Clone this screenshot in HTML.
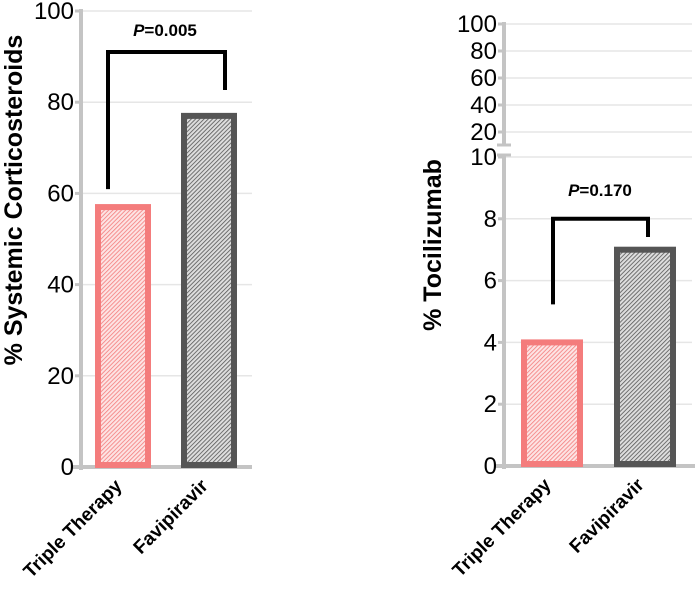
<!DOCTYPE html>
<html><head><meta charset="utf-8"><style>
body{margin:0;background:#fff}
svg{font-family:"Liberation Sans",Arial,sans-serif;display:block}
</style></head><body>
<svg width="696" height="597" viewBox="0 0 696 597">
<defs>
<pattern id="hp" width="3" height="3" patternUnits="userSpaceOnUse" patternTransform="rotate(45)"><rect width="3" height="3" fill="#fde3e3"/><line x1="0" y1="0" x2="0" y2="3" stroke="#f47c7c" stroke-width="1.6"/></pattern>
<pattern id="hg" width="3" height="3" patternUnits="userSpaceOnUse" patternTransform="rotate(45)"><rect width="3" height="3" fill="#ddd"/><line x1="0" y1="0" x2="0" y2="3" stroke="#555" stroke-width="1.6"/></pattern>
</defs>
<g id="left"></g>
<g id="right"></g>
</svg>
<script>
const categories=["Triple Therapy","Favipiravir"];
const steroidValues=[57,77];
const tociValues=[4,7];
const leftTicks=[0,20,40,60,80,100];
const rightLowTicks=[0,2,4,6,8,10];
const rightHighTicks=[20,40,60,80,100];
const pLeft="0.005", pRight="0.170";
const NS="http://www.w3.org/2000/svg";
function mk(p,t,a,txt){const e=document.createElementNS(NS,t);for(const k in a)e.setAttribute(k,a[k]);if(txt!==undefined)e.textContent=txt;p.appendChild(e);return e;}
const fills=["url(#hp)","url(#hg)"],strokes=["#f47c7c","#555"];
function pText(g,x,y,val){const t=mk(g,"text",{x:x,y:y,"text-anchor":"middle","font-size":"17","font-weight":"bold"});

mk(t,"tspan",{"font-style":"italic"},"P");mk(t,"tspan",{},"="+val);}
function tickLabel(g,x,y,v){const t=mk(g,"text",{x:x,y:y+8,"text-anchor":"end","font-size":"24"},v);}
function xLabel(g,cx,base,c){const t=mk(g,"text",{transform:`translate(${cx},${base+20}) rotate(-45)`,"text-anchor":"end","font-size":"19","font-weight":"bold"},c);
}
// LEFT
(function(){
const g=document.getElementById('left');
const ax=81,base=467,top=11,x1=252;
const y=v=>base-(v/100)*(base-top);
leftTicks.forEach(v=>{if(v>0){const l=mk(g,"line",{x1:ax,x2:x1,y1:y(v),y2:y(v),stroke:"#e6e6e6","stroke-width":1.5});}
mk(g,"line",{x1:ax-6,x2:ax,y1:y(v),y2:y(v),stroke:"#c4c4c4","stroke-width":3});
tickLabel(g,ax-7,y(v),v);});
mk(g,"line",{x1:ax,x2:ax,y1:y(100)-2,y2:base+3,stroke:"#c4c4c4","stroke-width":4});
mk(g,"line",{x1:ax-8,x2:x1,y1:base,y2:base,stroke:"#c4c4c4","stroke-width":4});
const bx=[98,184],bw=50;
categories.forEach((c,i)=>{const r=mk(g,"rect",{x:bx[i],y:y(steroidValues[i]),width:bw,height:base-y(steroidValues[i])-2,fill:fills[i],stroke:strokes[i],"stroke-width":6});

xLabel(g,bx[i]+bw/2,base,c);});
const br=mk(g,"path",{d:`M108 ${y(steroidValues[0])-18} V52 H225 V90`,fill:"none",stroke:"#000","stroke-width":4});

pText(g,165,36,pLeft);
const yt=mk(g,"text",{transform:"translate(22,200) rotate(-90)","text-anchor":"middle","font-size":"25","font-weight":"bold"},"% Systemic Corticosteroids");

})();
// RIGHT
(function(){
const g=document.getElementById('right');
const ax=504,base=466,top=157,x1=692;
const y=v=>base-(v/10)*(base-top);
const yh=v=>24+(100-v)/80*(132-24);
rightHighTicks.forEach(v=>{const l=mk(g,"line",{x1:ax,x2:x1,y1:yh(v),y2:yh(v),stroke:"#e6e6e6","stroke-width":1.5});
mk(g,"line",{x1:ax-6,x2:ax,y1:yh(v),y2:yh(v),stroke:"#c4c4c4","stroke-width":3});
tickLabel(g,ax-7,yh(v),v);});
rightLowTicks.forEach(v=>{if(v>0){const l=mk(g,"line",{x1:ax,x2:x1,y1:y(v),y2:y(v),stroke:"#e6e6e6","stroke-width":1.5});}
mk(g,"line",{x1:ax-6,x2:ax,y1:y(v),y2:y(v),stroke:"#c4c4c4","stroke-width":3});
tickLabel(g,ax-7,y(v),v);});
mk(g,"line",{x1:ax,x2:ax,y1:22,y2:145,stroke:"#c4c4c4","stroke-width":4});
mk(g,"line",{x1:ax-7,x2:ax+7,y1:145,y2:145,stroke:"#c4c4c4","stroke-width":3});
mk(g,"line",{x1:ax-7,x2:ax+7,y1:155,y2:155,stroke:"#c4c4c4","stroke-width":3});
mk(g,"line",{x1:ax,x2:ax,y1:155,y2:base+3,stroke:"#c4c4c4","stroke-width":4});
mk(g,"line",{x1:ax-8,x2:x1+3,y1:base,y2:base,stroke:"#c4c4c4","stroke-width":4});
const bx=[524,617],bw=56;
categories.forEach((c,i)=>{const r=mk(g,"rect",{x:bx[i],y:y(tociValues[i]),width:bw,height:base-y(tociValues[i])-2,fill:fills[i],stroke:strokes[i],"stroke-width":6});

xLabel(g,bx[i]+bw/2,base,c);});
const br=mk(g,"path",{d:`M553 ${y(tociValues[0])-38} V${y(8)} H648 V237`,fill:"none",stroke:"#000","stroke-width":4});

pText(g,600,196,pRight);
const yt=mk(g,"text",{transform:"translate(441,245) rotate(-90)","text-anchor":"middle","font-size":"25","font-weight":"bold"},"% Tocilizumab");

})();
</script>
</body></html>
